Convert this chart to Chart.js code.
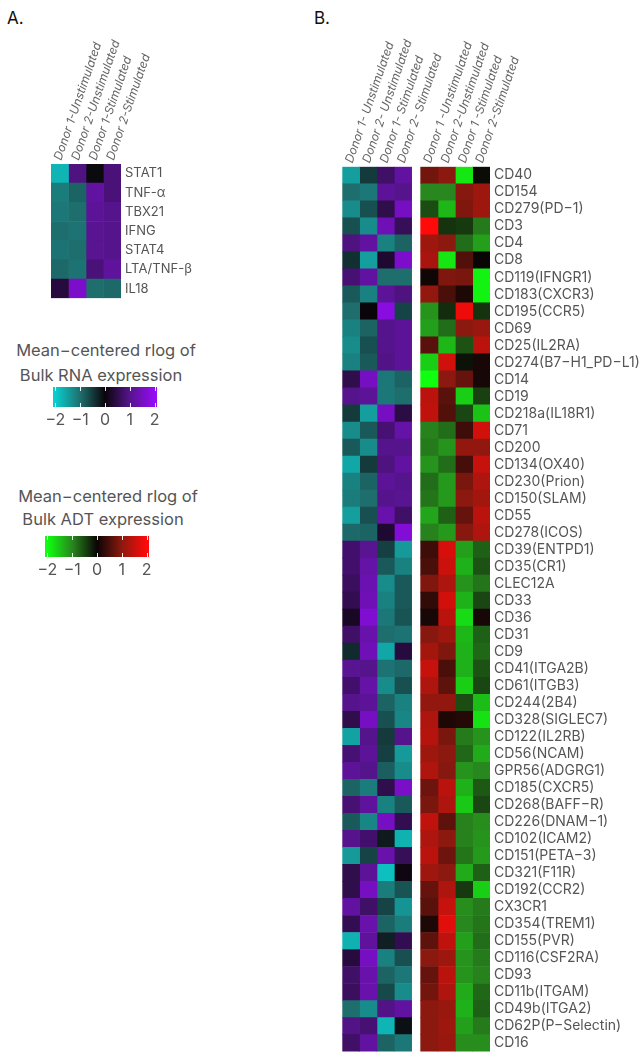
<!DOCTYPE html>
<html>
<head>
<meta charset="utf-8">
<title>Bulk RNA and ADT expression heatmaps</title>
<script src="https://cdn.jsdelivr.net/npm/chart.js@4.4.0/dist/chart.umd.min.js"></script>
<style>
	body { margin: 0; background: #fff; font-family: Inter, sans-serif; }
	#page { position: relative; width: 641px; height: 1064px; overflow: hidden; }
	canvas { position: absolute; }
	.panel { position: absolute; font-size: 17px; line-height: 20px; color: #111; }
	.line { position: absolute; width: 240px; text-align: center; font-size: 16.5px; line-height: 24px; color: #555; white-space: nowrap; }
</style>
</head>
<body>
<div id="page">
	<div class="panel" style="left:7px; top:8px;">A.</div>
	<div class="panel" style="left:314px; top:8px;">B.</div>

	<canvas id="heatA" width="230" height="310" style="left:0; top:0;"></canvas>

	<div class="line" style="left:-14px; top:338px;">Mean−centered rlog of</div>
	<div class="line" style="left:-19px; top:363px;">Bulk RNA expression</div>
	<canvas id="barRna" width="220" height="60" style="left:0; top:380px;"></canvas>

	<div class="line" style="left:-12px; top:484px;">Mean−centered rlog of</div>
	<div class="line" style="left:-17px; top:507px;">Bulk ADT expression</div>
	<canvas id="barAdt" width="220" height="60" style="left:0; top:529px;"></canvas>

	<canvas id="heatB" width="311" height="1064" style="left:330px; top:0;"></canvas>
</div>
<script>
// column (sample) names, as written on each block
const samplesA = ['Donor 1-Unstimulated', 'Donor 2-Unstimulated', 'Donor 1-Stimulated', 'Donor 2-Stimulated'];
const samplesRna = ['Donor 1- Unstimulated', 'Donor 2- Unstimulated', 'Donor 1- Stimulated', 'Donor 2- Stimulated'];
const samplesAdt = ['Donor 1 -Unstimulated', 'Donor 2-Unstimulated', 'Donor 1 -Stimulated', 'Donor 2-Stimulated'];

// panel A: bulk RNA, mean-centered rlog
const genes = ['STAT1', 'TNF-α', 'TBX21', 'IFNG', 'STAT4', 'LTA/TNF-β', 'IL18'];
const geneRna = [
	[-1.75, 0.9, -0.05, 0.85],
	[-1.15, -0.9, 1.2, 0.85],
	[-1.1, -1.0, 1.1, 1.0],
	[-1.0, -1.05, 1.05, 1.0],
	[-1.05, -1.0, 1.05, 1.0],
	[-0.95, -1.05, 0.85, 1.15],
	[0.4, 1.6, -1.0, -0.95]
];

// panel B: surface markers, RNA (left block) and ADT (right block)
const markers = ['CD40', 'CD154', 'CD279(PD−1)', 'CD3', 'CD4', 'CD8', 'CD119(IFNGR1)', 'CD183(CXCR3)',
	'CD195(CCR5)', 'CD69', 'CD25(IL2RA)', 'CD274(B7−H1_PD−L1)', 'CD14', 'CD19', 'CD218a(IL18R1)', 'CD71',
	'CD200', 'CD134(OX40)', 'CD230(Prion)', 'CD150(SLAM)', 'CD55', 'CD278(ICOS)', 'CD39(ENTPD1)', 'CD35(CR1)',
	'CLEC12A', 'CD33', 'CD36', 'CD31', 'CD9', 'CD41(ITGA2B)', 'CD61(ITGB3)', 'CD244(2B4)', 'CD328(SIGLEC7)',
	'CD122(IL2RB)', 'CD56(NCAM)', 'GPR56(ADGRG1)', 'CD185(CXCR5)', 'CD268(BAFF−R)', 'CD226(DNAM−1)',
	'CD102(ICAM2)', 'CD151(PETA−3)', 'CD321(F11R)', 'CD192(CCR2)', 'CX3CR1', 'CD354(TREM1)', 'CD155(PVR)',
	'CD116(CSF2RA)', 'CD93', 'CD11b(ITGAM)', 'CD49b(ITGA2)', 'CD62P(P−Selectin)', 'CD16'];

const markerRna = [
	[-1.5, -0.5, 0.7, 1.2], [-1.0, -1.1, 1.1, 1.0], [-1.3, -0.7, 0.5, 1.5], [-0.7, -1.3, 1.4, 0.6],
	[0.9, 1.2, -1.2, -0.9], [-0.4, -1.5, 0.3, 1.6], [0.8, 1.2, -1.0, -1.0], [-0.8, -1.2, 1.1, 0.9],
	[-1.0, 0.0, 1.8, -0.6], [-1.2, -0.9, 1.0, 1.1], [-1.3, -0.7, 1.0, 1.1], [-1.2, -0.8, 0.95, 1.1],
	[0.5, 1.5, -1.1, -0.9], [1.0, 1.1, -1.1, -1.0], [-0.5, -1.5, 1.5, 0.45], [-1.3, -0.8, 0.8, 1.25],
	[-0.8, -1.3, 1.0, 1.0], [-1.6, -0.5, 0.9, 1.2], [-1.2, -0.9, 1.1, 1.0], [-1.15, -1.0, 1.0, 1.05],
	[-1.5, -0.7, 1.3, 0.7], [-0.95, -0.9, 0.3, 1.7], [0.75, 1.05, -0.55, -1.45], [0.75, 1.25, -0.8, -1.2],
	[0.65, 1.35, -1.3, -0.8], [0.55, 1.4, -1.2, -0.8], [0.2, 1.65, -1.1, -0.75], [0.7, 1.3, -1.0, -1.05],
	[-0.35, 1.4, -1.6, 0.4], [1.05, 1.0, -1.05, -0.95], [0.75, 1.25, -1.3, -0.7], [1.0, 1.1, -0.9, -1.2],
	[0.5, 1.5, -0.7, -1.25], [-1.55, 1.0, -0.5, 1.0], [0.8, 1.1, -0.55, -1.45], [1.1, 1.0, -0.85, -1.3],
	[-0.9, -1.15, 0.5, 1.55], [0.8, 1.15, -1.2, -0.8], [-0.8, -1.25, 1.5, 0.55], [1.0, 0.75, -0.2, -1.7],
	[-1.45, -0.6, 1.3, 0.6], [0.5, 1.1, -1.85, 0.05], [0.5, 1.5, -1.15, -0.75], [1.2, 0.7, -0.6, -1.4],
	[0.55, 1.3, -0.9, -1.15], [-1.7, 1.15, -0.25, 0.55], [0.4, 1.5, -1.2, -0.7], [0.7, 1.3, -0.9, -1.1],
	[0.65, 1.3, -0.65, -1.3], [-1.0, -1.3, 0.95, 1.2], [0.95, 0.8, -1.75, -0.1], [0.7, 1.2, -0.9, -1.1]
];

const markerAdt = [
	[0.8, 1.0, -1.8, -0.05], [-1.0, -1.0, 0.95, 1.15], [-0.55, -1.4, 0.9, 1.15], [2.0, -0.35, -0.4, -0.9],
	[1.15, 1.0, -0.8, -1.2], [1.25, -1.8, 0.55, 0.0], [0.05, 0.9, 0.85, -1.9], [1.05, 0.5, 0.15, -1.9],
	[-1.1, -0.3, 1.85, -0.35], [-1.2, -0.8, 1.0, 1.1], [0.6, -1.4, -0.6, 1.4], [-1.6, 1.6, -0.1, 0.1],
	[-2.0, 1.0, 0.7, 0.1], [1.4, 0.6, -1.6, -0.45], [1.45, 0.55, -0.5, -1.5], [-0.95, -0.8, 0.4, 1.6],
	[-0.9, -1.1, 1.05, 1.05], [-1.1, -0.8, 0.45, 1.5], [-0.8, -1.15, 0.85, 1.3], [-0.85, -1.15, 1.0, 1.2],
	[-1.25, -0.7, 0.7, 1.4], [-0.95, -1.15, 0.95, 1.3], [0.4, 1.65, -1.2, -0.7], [0.5, 1.55, -1.35, -0.6],
	[0.9, 1.3, -1.1, -0.85], [0.3, 1.6, -1.35, -0.5], [0.1, 1.4, -1.7, 0.1], [0.95, 1.15, -1.4, -0.7],
	[1.2, 0.9, -1.35, -0.75], [1.5, 0.5, -1.35, -0.6], [1.3, 0.65, -1.6, -0.5], [1.05, 1.05, -0.55, -1.45],
	[1.3, 0.15, 0.2, -1.75], [1.35, 0.85, -0.9, -1.1], [1.15, 1.0, -0.75, -1.3], [1.3, 0.95, -1.1, -1.0],
	[0.75, 1.4, -1.35, -0.65], [0.85, 1.3, -1.55, -0.5], [1.45, 0.65, -0.95, -1.05], [1.3, 1.0, -0.95, -1.1],
	[1.4, 0.75, -0.85, -1.15], [1.15, 1.0, -1.3, -0.7], [0.7, 1.3, -0.4, -1.6], [0.6, 1.5, -1.05, -0.9],
	[0.15, 1.75, -1.0, -0.85], [0.65, 1.45, -1.2, -0.8], [1.0, 1.15, -1.1, -0.9], [0.7, 1.4, -1.1, -0.95],
	[0.8, 1.3, -1.3, -0.75], [1.0, 1.1, -1.35, -0.7], [1.0, 1.15, -1.2, -0.9], [1.0, 1.1, -1.05, -1.05]
];

const legendTicks = [-2, -1, 0, 1, 2];

// colour anchors at -2, -1, 0, 1, 2
const rnaStops = [[10, 205, 205], [30, 110, 110], [10, 5, 10], [85, 20, 140], [150, 10, 245]];
const adtStops = [[15, 255, 15], [40, 135, 30], [10, 5, 5], [140, 25, 15], [255, 10, 10]];

function rgb(c) { return 'rgb(' + c.map(Math.round).join(',') + ')'; }

function colourOf(stops) {
	return function (v) {
		v = Math.max(-2, Math.min(2, v));
		const i = Math.min(3, Math.floor(v + 2));
		const t = v + 2 - i;
		return rgb(stops[i].map((a, k) => a + (stops[i + 1][k] - a) * t));
	};
}

Chart.defaults.font.family = 'Inter';

// rotated sample names above each column
const columnLabels = {
	id: 'columnLabels',
	afterDraw(chart) {
		const { ctx, chartArea, scales } = chart;
		let offset = 0;
		ctx.save();
		ctx.font = 'italic 12px Inter';
		ctx.fillStyle = '#666';
		ctx.textAlign = 'left';
		ctx.textBaseline = 'alphabetic';
		chart.data.datasets.forEach(ds => {
			const w = ds.data[0];
			if (ds.colLabel) {
				const x = scales.x.getPixelForValue(offset + w / 2);
				ctx.save();
				ctx.translate(x + 1.5, chartArea.top - 3);
				ctx.rotate(-71 * Math.PI / 180);
				ctx.fillText(ds.colLabel, 0, 0);
				ctx.restore();
			}
			offset += w;
		});
		ctx.restore();
	}
};

function blockDatasets(values, samples, stops) {
	const colour = colourOf(stops);
	return samples.map((s, c) => ({
		colLabel: s,
		data: values.map(() => 1),
		backgroundColor: values.map(row => colour(row[c])),
		borderWidth: 0,
		barPercentage: 1,
		categoryPercentage: 1
	}));
}

function heatChart(id, labels, datasets, pad, yWidth, fontSize) {
	const total = datasets.reduce((s, d) => s + d.data[0], 0);
	return new Chart(document.getElementById(id), {
		type: 'bar',
		data: { labels: labels, datasets: datasets },
		options: {
			indexAxis: 'y',
			responsive: false,
			animation: false,
			layout: { padding: pad },
			plugins: { legend: { display: false }, tooltip: { enabled: false } },
			scales: {
				x: { type: 'linear', stacked: true, min: 0, max: total, display: false },
				y: {
					position: 'right',
					stacked: true,
					grid: { display: false, drawTicks: false },
					border: { display: false },
					ticks: { autoSkip: false, padding: 4, color: '#555', font: { size: fontSize } },
					afterFit: s => { s.width = yWidth; }
				}
			}
		},
		plugins: [columnLabels]
	});
}

// panel A
heatChart('heatA', genes, blockDatasets(geneRna, samplesA, rnaStops),
	{ left: 51, top: 164, right: 0, bottom: 8 }, 109, 13);

// panel B: RNA block, small gap, ADT block
const gap = 0.52;
const spacer = { data: markers.map(() => gap), backgroundColor: 'rgba(0,0,0,0)', borderWidth: 0, barPercentage: 1, categoryPercentage: 1 };
heatChart('heatB', markers,
	blockDatasets(markerRna, samplesRna, rnaStops).concat([spacer], blockDatasets(markerAdt, samplesAdt, adtStops)),
	{ left: 12.3, top: 166.7, right: 0, bottom: 1.4 }, 151, 14);

// colour keys
function barGradient(chart, stops) {
	const area = chart.chartArea;
	if (!area) return 'black';
	const x = chart.scales.x;
	const g = chart.ctx.createLinearGradient(area.left, 0, area.right, 0);
	legendTicks.forEach((v, i) => {
		g.addColorStop((x.getPixelForValue(v) - area.left) / (area.right - area.left), rgb(stops[i]));
	});
	return g;
}

const tickMarks = {
	id: 'tickMarks',
	afterDatasetsDraw(chart) {
		const { ctx, chartArea: a, scales } = chart;
		ctx.save();
		ctx.strokeStyle = 'rgba(255,255,255,0.9)';
		ctx.lineWidth = 1;
		legendTicks.forEach(v => {
			const px = Math.round(scales.x.getPixelForValue(v)) + 0.5;
			ctx.beginPath();
			ctx.moveTo(px, a.top); ctx.lineTo(px, a.top + 4);
			ctx.moveTo(px, a.bottom - 4); ctx.lineTo(px, a.bottom);
			ctx.stroke();
		});
		ctx.restore();
	}
};

function colourBar(id, stops, pad, axisHeight) {
	return new Chart(document.getElementById(id), {
		type: 'bar',
		data: {
			labels: [''],
			datasets: [{
				data: [[-2.1, 2.1]],
				backgroundColor: ctx => barGradient(ctx.chart, stops),
				borderWidth: 0,
				barPercentage: 1,
				categoryPercentage: 1
			}]
		},
		options: {
			indexAxis: 'y',
			responsive: false,
			animation: false,
			layout: { padding: pad },
			plugins: { legend: { display: false }, tooltip: { enabled: false } },
			scales: {
				y: { display: false },
				x: {
					min: -2.1,
					max: 2.1,
					grid: { display: false, drawTicks: false },
					border: { display: false },
					afterBuildTicks: s => { s.ticks = legendTicks.map(v => ({ value: v })); },
					afterFit: s => { s.height = axisHeight; },
					ticks: {
						padding: 4,
						color: '#555',
						font: { size: 16 },
						callback: v => v < 0 ? '\u2212' + (-v) : String(v)
					}
				}
			}
		},
		plugins: [tickMarks]
	});
}

colourBar('barRna', rnaStops, { left: 53, right: 63, top: 7, bottom: 0 }, 33);
colourBar('barAdt', adtStops, { left: 45, right: 71, top: 7, bottom: 0 }, 32);
</script>
</body>
</html>
